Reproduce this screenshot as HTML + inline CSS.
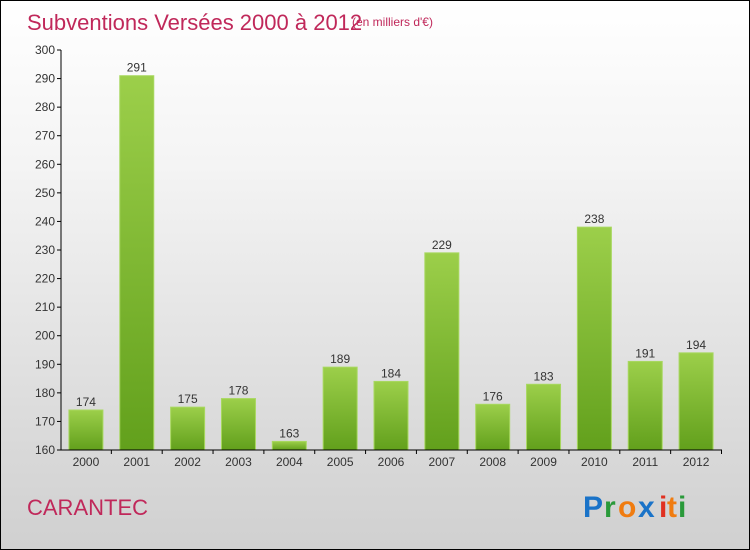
<!DOCTYPE html>
<html><head><meta charset="utf-8"><style>
body{margin:0;}
#c{position:relative;width:748px;height:548px;border:1px solid #000;background:linear-gradient(#fff 0%,#f4f4f4 30%,#dcdcdc 75%,#d0d0d0 100%);font-family:"Liberation Sans",sans-serif;overflow:hidden;}
</style></head><body>
<div id="c">
<svg width="748" height="548">
<text x="26" y="29" font-size="22" fill="#c0285a">Subventions Versées 2000 à 2012</text>
<text x="351" y="25" font-size="12" fill="#c0285a">(en milliers d'€)</text>
<text x="26" y="514" font-size="22" fill="#c0285a">CARANTEC</text>
<g font-size="30" font-weight="bold">
<text x="582" y="516" fill="#1a73c8">P</text><text x="603" y="516" fill="#2a9a3a">r</text><text x="617" y="516" fill="#f07c10">o</text><text x="637" y="516" fill="#1a73c8">x</text><text x="658" y="516" fill="#e03020">i</text><text x="666" y="516" fill="#f07c10">t</text><text x="677" y="516" fill="#2a9a3a">i</text>
</g>
<defs><linearGradient id="bg" x1="0" y1="0" x2="0" y2="1"><stop offset="0" stop-color="#9ccf4a"/><stop offset="1" stop-color="#62a01c"/></linearGradient></defs>
<g id="bars"></g><g id="axes"></g>
</svg>
</div>
<script>
const years=["2000","2001","2002","2003","2004","2005","2006","2007","2008","2009","2010","2011","2012"];
const values=[174,291,175,178,163,189,184,229,176,183,238,191,194];
const ticks=[160,170,180,190,200,210,220,230,240,250,260,270,280,290,300];
const NS="http://www.w3.org/2000/svg";
const y0=449,y1=49,vmin=160,vmax=300,xl=60,xr=721;
const ys=v=>y0-(v-vmin)/(vmax-vmin)*(y0-y1);
const step=(xr-xl)/years.length;
const xs=i=>xl+step*(i+0.5)-0.5;
function mk(t,a,p){const e=document.createElementNS(NS,t);for(const k in a)e.setAttribute(k,a[k]);p.appendChild(e);return e;}
const bars=document.getElementById('bars'),axes=document.getElementById('axes');
values.forEach((v,i)=>{
 const r=mk('rect',{x:xs(i)-17,y:ys(v),width:34,height:y0-ys(v),fill:'url(#bg)',stroke:'#a8d860','stroke-width':1},bars);
 
 
 const t=mk('text',{x:xs(i),y:ys(v)-4,'text-anchor':'middle','font-size':12,fill:'#333'},bars);
 t.textContent=v;
 
 
 const xl2=mk('text',{x:xs(i),y:y0+16,'text-anchor':'middle','font-size':12,fill:'#333'},axes);
 xl2.textContent=years[i];
 
 
 mk('line',{x1:xs(i)+step/2,x2:xs(i)+step/2,y1:y0,y2:y0+4,stroke:'#000'},axes);
});
ticks.forEach(t=>{
 mk('line',{x1:xl-4,x2:xl,y1:ys(t),y2:ys(t),stroke:'#000'},axes);
 const e=mk('text',{x:xl-6,y:ys(t)+4,'text-anchor':'end','font-size':12,fill:'#333'},axes);
 e.textContent=t;
 
 
});
const ya=mk('line',{x1:xl,x2:xl,y1:y1,y2:y0,stroke:'#000'},axes);


const xa=mk('line',{x1:xl,x2:xr,y1:y0,y2:y0,stroke:'#000'},axes);


</script>
</body></html>
